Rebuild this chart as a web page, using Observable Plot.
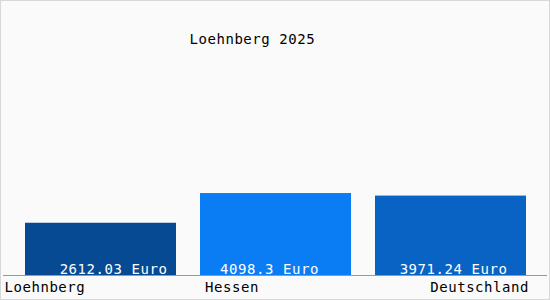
<!DOCTYPE html>
<html>
<head>
<meta charset="utf-8">
<script src="https://cdn.jsdelivr.net/npm/d3@7"></script>
<script src="https://cdn.jsdelivr.net/npm/@observablehq/plot@0.6"></script>
<style>
  html, body { margin: 0; padding: 0; background: #fff; }
  svg { outline: 1px solid #d8d8d8; outline-offset: -1px; }
</style>
</head>
<body>
<div id="chart"></div>
<script>
const categories = ["Loehnberg", "Hessen", "Deutschland"];
const values = [2612.03, 4098.3, 3971.24];
const valueLabels = ["2612.03 Euro", "4098.3 Euro", "3971.24 Euro"];
const colors = ["#064a94", "#0a7df5", "#0863c4"];
const title = "Loehnberg 2025";

const data = categories.map((c, i) => ({cat: c, value: values[i], label: valueLabels[i], color: colors[i]}));
const font = "'DejaVu Sans Mono', monospace";

const chart = Plot.plot({
  width: 550,
  height: 300,
  marginLeft: 3,
  marginRight: 3,
  marginTop: 0,
  marginBottom: 0,
  style: {background: "#fafafa", fontFamily: font, fontSize: "14px", letterSpacing: "0.55px"},
  x: {domain: categories, range: [25, 526], paddingInner: 24 / 175, paddingOuter: 0, axis: null},
  y: {domain: [0, 10000], range: [275, 75], axis: null},
  marks: [
    Plot.barY(data, {x: "cat", y: "value", fill: "color"}),
    Plot.ruleY([0], {stroke: "#999", strokeWidth: 1}),
    Plot.text(data.slice(0, 1), {x: "cat", y: 0, text: "label", fill: "#fff", lineAnchor: "bottom", dy: -2, dx: 12.5, fontSize: 14}),
    Plot.text(data.slice(1, 2), {x: "cat", y: 0, text: "label", fill: "#fff", lineAnchor: "bottom", dy: -2, dx: -6.5, fontSize: 14}),
    Plot.text(data.slice(2, 3), {x: "cat", y: 0, text: "label", fill: "#fff", lineAnchor: "bottom", dy: -2, dx: 2.5, fontSize: 14}),
    Plot.text([categories[0]], {frameAnchor: "left", y: 0, text: d => d, textAnchor: "start", lineAnchor: "bottom", dx: 1, dy: 16, fill: "#000", fontSize: 14}),
    Plot.text([categories[1]], {x: d => d, y: 0, text: d => d, textAnchor: "start", lineAnchor: "bottom", dx: -71, dy: 16, fill: "#000", fontSize: 14}),
    Plot.text([categories[2]], {x: d => d, y: 0, text: d => d, textAnchor: "end", lineAnchor: "bottom", dx: 78, dy: 16, fill: "#000", fontSize: 14}),
    Plot.text([title], {frameAnchor: "top-left", text: d => d, textAnchor: "start", lineAnchor: "bottom", dx: 186, dy: 43, fill: "#000", fontSize: 14})
  ]
});
document.getElementById("chart").appendChild(chart);
</script>
</body>
</html>
